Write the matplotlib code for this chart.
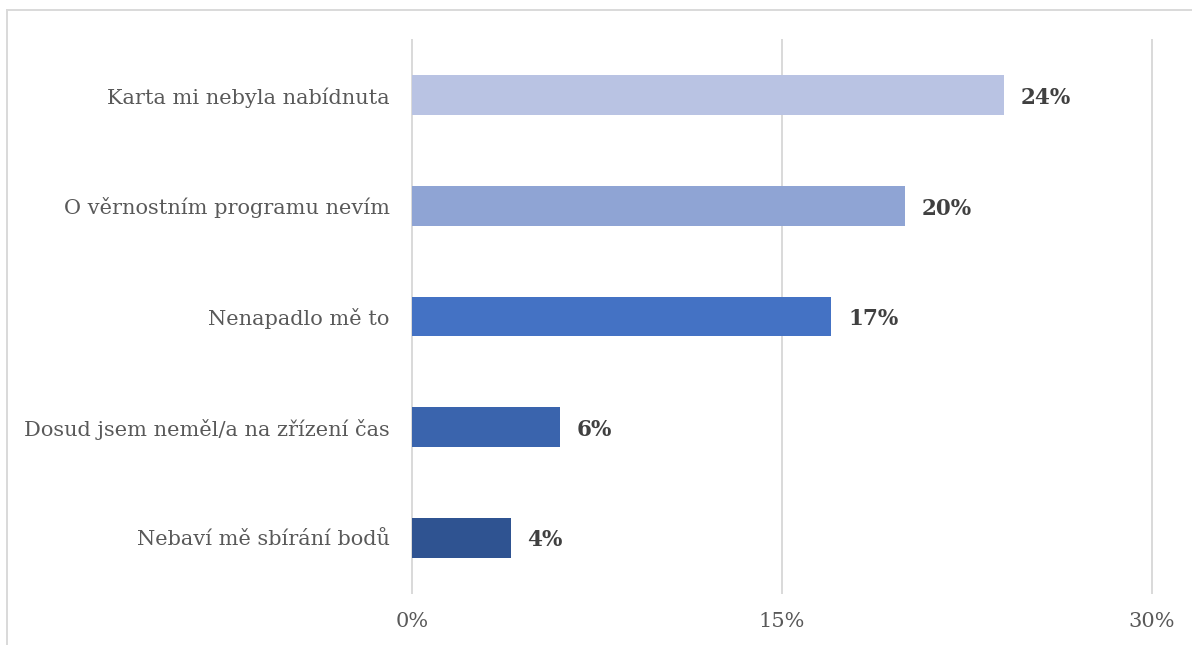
import matplotlib
matplotlib.use("Agg")
import matplotlib.pyplot as plt
import matplotlib.transforms as mtransforms
from matplotlib.lines import Line2D

categories = [
    "Karta mi nebyla nabídnuta",
    "O věrnostním programu nevím",
    "Nenapadlo mě to",
    "Dosud jsem neměl/a na zřízení čas",
    "Nebaví mě sbírání bodů",
]
values = [24, 20, 17, 6, 4]
bar_colors = ["#B9C3E3", "#8FA4D4", "#4472C4", "#3A64AD", "#2F5391"]
x_ticks = [0, 15, 30]
x_tick_labels = ["0%", "15%", "30%"]

plt.rcParams["font.family"] = ["DejaVu Serif"]

W, H = 1192, 645
fig = plt.figure(figsize=(W / 100, H / 100), dpi=100)
ax = fig.add_axes([412 / W, 1 - 593 / H, (1152 - 412) / W, (593 - 40) / H])

ypos = list(range(len(categories)))
ax.barh(ypos, values, height=0.36, color=bar_colors, zorder=3)
ax.set_ylim(len(categories) - 0.5, -0.5)
ax.set_xlim(0, 30)

for y, v in zip(ypos, values):
    ax.annotate(f"{v}%", xy=(v, y), xytext=(12, -2), textcoords="offset points",
                ha="left", va="center", fontsize=15.5, fontweight="bold",
                color="#404040")

ax.set_yticks(ypos)
ax.set_yticklabels(categories, fontsize=15, color="#595959")
shift = mtransforms.ScaledTranslation(0, -3 / 100, fig.dpi_scale_trans)
for lbl in ax.get_yticklabels():
    lbl.set_transform(lbl.get_transform() + shift)
ax.set_xticks(x_ticks)
ax.set_xticklabels(x_tick_labels, fontsize=15, color="#595959")
ax.tick_params(axis="y", length=0, pad=16)
ax.tick_params(axis="x", length=0, pad=14)
for s in ax.spines.values():
    s.set_visible(False)
for t in x_ticks:
    ax.axvline(t, color="#D9D9D9", linewidth=1.4, zorder=1, clip_on=False)

# outer frame (top and left edges)
fx, fy = 7 / W, 1 - 10 / H
fig.add_artist(Line2D([fx, 1], [fy, fy], transform=fig.transFigure, color="#D9D9D9", linewidth=1.4))
fig.add_artist(Line2D([fx, fx], [0, fy], transform=fig.transFigure, color="#D9D9D9", linewidth=1.4))

fig.savefig("out.png", dpi=100)
